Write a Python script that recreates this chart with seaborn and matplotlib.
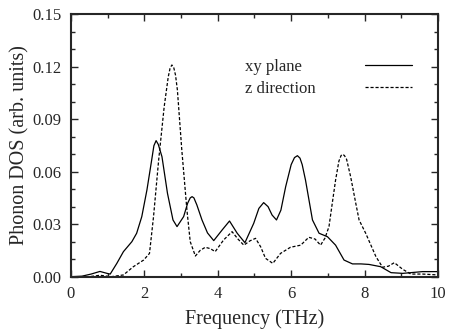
import numpy as np
import pandas as pd
import matplotlib
matplotlib.use("Agg")
import matplotlib.pyplot as plt
import seaborn as sns
from matplotlib.ticker import MultipleLocator

sns.set_style("ticks")
plt.rcParams['font.family'] = ['Liberation Serif', 'DejaVu Serif']

# xy plane (solid)
xy_freq = [0.0, 0.3, 0.55, 0.79, 1.0, 1.07, 1.25, 1.43, 1.66, 1.79, 1.93, 2.07, 2.20, 2.26,
           2.32, 2.38, 2.48, 2.63, 2.78, 2.89, 3.07, 3.18, 3.25, 3.30, 3.35, 3.43, 3.57,
           3.72, 3.89, 4.12, 4.32, 4.53, 4.74, 4.98, 5.12, 5.25, 5.37, 5.48, 5.60, 5.72,
           5.85, 6.0, 6.09, 6.17, 6.24, 6.30, 6.39, 6.58, 6.76, 6.99, 7.21, 7.44, 7.67,
           7.90, 8.12, 8.44, 8.72, 9.04, 9.58, 10.0]
xy_dos = [0.0, 0.0003, 0.0015, 0.003, 0.0018, 0.0015, 0.0076, 0.0143, 0.020, 0.0248, 0.0343,
          0.0495, 0.0667, 0.0748, 0.0777, 0.0755, 0.0685, 0.0476, 0.0324, 0.0286, 0.0343,
          0.0420, 0.0450, 0.0457, 0.0450, 0.0410, 0.0324, 0.0250, 0.0206, 0.0267, 0.0318,
          0.0248, 0.0194, 0.0305, 0.0390, 0.0423, 0.0400, 0.0352, 0.0324, 0.0380, 0.0514,
          0.0640, 0.0680, 0.0691, 0.0677, 0.0640, 0.0552, 0.0324, 0.0248, 0.0228, 0.0180,
          0.0095, 0.0073, 0.0073, 0.0070, 0.0057, 0.0023, 0.0019, 0.0029, 0.0029]

# z direction (dashed)
z_freq = [0.0, 0.5, 0.79, 1.1, 1.43, 1.70, 1.98, 2.14, 2.25, 2.39, 2.54, 2.65, 2.70, 2.75,
          2.80, 2.85, 2.90, 3.02, 3.16, 3.25, 3.39, 3.52, 3.66, 3.80, 3.93, 4.16, 4.39,
          4.55, 4.71, 4.88, 5.03, 5.17, 5.30, 5.50, 5.71, 5.98, 6.26, 6.48, 6.65, 6.80,
          6.92, 7.03, 7.12, 7.21, 7.30, 7.36, 7.40, 7.45, 7.51, 7.62, 7.76, 7.85, 8.03,
          8.31, 8.49, 8.65, 8.81, 9.04, 9.26, 9.58, 10.0]
z_dos = [0.0, 0.0, 0.0008, 0.0, 0.001, 0.0057, 0.0095, 0.0133, 0.0343, 0.0667, 0.0970,
         0.1140, 0.1190, 0.1209, 0.1195, 0.1150, 0.1066, 0.0724, 0.0380, 0.0200, 0.0118,
         0.0150, 0.0168, 0.0160, 0.0143, 0.0210, 0.0257, 0.0215, 0.0180, 0.0205, 0.0219,
         0.0170, 0.0105, 0.0076, 0.0133, 0.0168, 0.0180, 0.0225, 0.0215, 0.0180, 0.0220,
         0.0286, 0.0420, 0.0552, 0.0660, 0.0692, 0.0699, 0.0692, 0.0670, 0.0571, 0.0419,
         0.0324, 0.0248, 0.0114, 0.0054, 0.0060, 0.0080, 0.0042, 0.0015, 0.0015, 0.001]

labels = ['xy plane', 'z direction']
dash = (0, (2.5, 1.5))

df_xy = pd.DataFrame({'freq': xy_freq, 'dos': xy_dos})
df_z = pd.DataFrame({'freq': z_freq, 'dos': z_dos})

fig = plt.figure(figsize=(4.49, 3.29), dpi=100)
ax = fig.add_axes([0.158, 0.159, 0.8175, 0.7984])

sns.lineplot(data=df_xy, x='freq', y='dos', ax=ax, color='black', lw=0.9,
             estimator=None, sort=False)
sns.lineplot(data=df_z, x='freq', y='dos', ax=ax, color='black', lw=0.9,
             estimator=None, sort=False, linestyle=dash)

ax.set_xlim(0, 10)
ax.set_ylim(0, 0.15)
ax.xaxis.set_major_locator(MultipleLocator(2))
ax.xaxis.set_minor_locator(MultipleLocator(1))
ax.yaxis.set_minor_locator(MultipleLocator(0.01))
ax.set_yticks([0.0, 0.03, 0.06, 0.09, 0.12, 0.15])
ax.set_yticklabels(['0.00', '0.03', '0.06', '0.09', '0.12', '0.15'])
ax.tick_params(which='both', direction='in', top=True, right=True, labelsize=12,
               width=1.0)
ax.tick_params(axis='x', pad=7)
ax.tick_params(axis='y', pad=7)
ax.tick_params(which='major', length=5)
ax.tick_params(which='minor', length=3)
for s in ax.spines.values():
    s.set_linewidth(1.5)

ax.set_xlabel('Frequency (THz)', fontsize=14.5, labelpad=5)
ax.set_ylabel('Phonon DOS (arb. units)', fontsize=14.5, labelpad=2)

# legend: labels left, line samples right
leg_y = [0.797, 0.716]
leg_ls = ['-', dash]
for lab, yy, ls in zip(labels, leg_y, leg_ls):
    ax.text(0.474, yy, lab, transform=ax.transAxes, fontsize=12, va='center', ha='left')
    ax.plot([0.801, 0.929], [yy + 0.008, yy + 0.008], transform=ax.transAxes,
            color='black', lw=0.9, linestyle=ls)

fig.savefig('out.png', dpi=100)
